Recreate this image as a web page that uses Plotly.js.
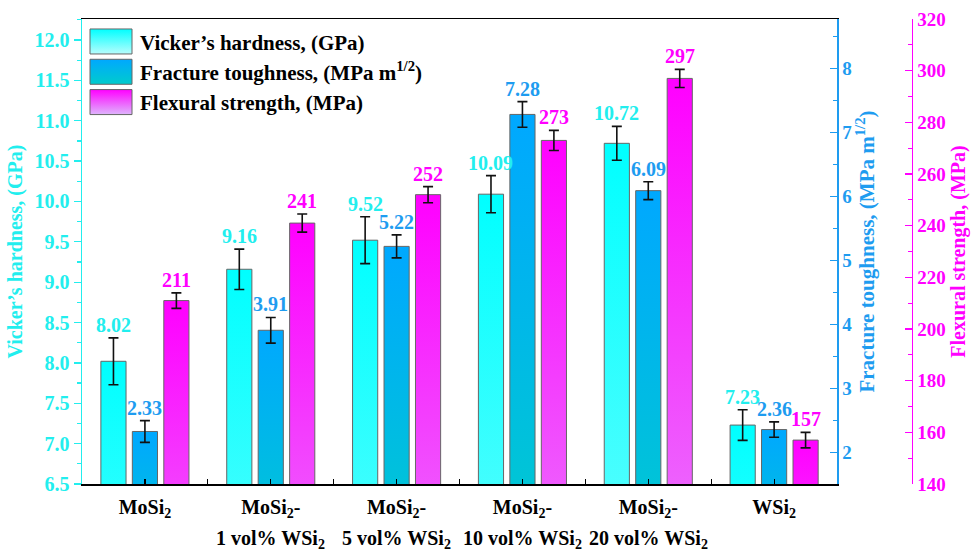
<!DOCTYPE html>
<html><head><meta charset="utf-8">
<script src="https://cdn.plot.ly/plotly-3.0.1.min.js"></script>
<style>html,body{margin:0;padding:0;background:#fff}#chart{width:974px;height:551px}</style>
</head><body>
<svg width="0" height="0" style="position:absolute">
<defs>
<linearGradient id="gradH" x1="0" y1="0" x2="0" y2="1"><stop offset="0" stop-color="#00ffff"/><stop offset="1" stop-color="#b8fdfd"/></linearGradient>
<linearGradient id="gradT" x1="0" y1="0" x2="0" y2="1"><stop offset="0" stop-color="#00a8ff"/><stop offset="1" stop-color="#00cccc"/></linearGradient>
<linearGradient id="gradF" x1="0" y1="0" x2="0" y2="1"><stop offset="0" stop-color="#ff00ff"/><stop offset="1" stop-color="#deb6fc"/></linearGradient>
</defs></svg>
<div id="chart"></div>
<script>
const categories = ['MoSi2','MoSi2-1 vol% WSi2','MoSi2-5 vol% WSi2','MoSi2-10 vol% WSi2','MoSi2-20 vol% WSi2','WSi2'];
const tickLine1 = ['MoSi<sub>2</sub>','MoSi<sub>2</sub>-','MoSi<sub>2</sub>-','MoSi<sub>2</sub>-','MoSi<sub>2</sub>-','WSi<sub>2</sub>'];
const tickLine2 = ['','1 vol% WSi<sub>2</sub>','5 vol% WSi<sub>2</sub>','10 vol% WSi<sub>2</sub>','20 vol% WSi<sub>2</sub>',''];
const hardness = [8.02, 9.16, 9.52, 10.09, 10.72, 7.23];
const hardnessErr = [0.29, 0.25, 0.29, 0.23, 0.21, 0.19];
const toughness = [2.33, 3.91, 5.22, 7.28, 6.09, 2.36];
const toughnessErr = [0.17, 0.20, 0.18, 0.20, 0.14, 0.12];
const strength = [211, 241, 252, 273, 297, 157];
const strengthErr = [3, 3.5, 3.1, 3.9, 3.5, 3];
const seriesNames = ['Vicker\u2019s hardness, (GPa)', 'Fracture toughness, (MPa m<sup>1/2</sup>)', 'Flexural strength, (MPa)'];

const CYAN = '#22eeee', BLUE = '#1e9cf0', MAG = '#ff00ff';
const FONT = 'Liberation Serif, Times New Roman, serif';
const grads = ['gradH','gradT','gradF'];
const fills = ['#00ffff','#00bbee','#ff44ff'];
const textColors = [CYAN, BLUE, MAG];
const offsets = [-0.35, -0.1, 0.15];
const yrefs = ['y','y2','y3'];
const xrefs = ['x','x','x2'];
const vals = [hardness, toughness, strength];
const errs = [hardnessErr, toughnessErr, strengthErr];
const fmt = [v=>v.toFixed(2), v=>v.toFixed(2), v=>String(Math.round(v))];

const traces = vals.map((v,i)=>({
  type:'bar', name:seriesNames[i], x:categories, y:v,
  xaxis:xrefs[i], yaxis:yrefs[i], width:0.2, offset:offsets[i],
  marker:{color:fills[i], line:{color:'#666666', width:1}},
  error_y:{type:'data', array:errs[i], visible:true, color:'#111111', thickness:1.6, width:5}
}));

const annotations = [];
vals.forEach((v,i)=>{
  v.forEach((val,j)=>{
    annotations.push({x:j+offsets[i]+0.1, y:val+errs[i][j], xref:'x', yref:yrefs[i],
      text:fmt[i](val), showarrow:false, yanchor:'bottom', yshift:0,
      font:{family:FONT, size:20, weight:'bold', color:textColors[i]}});
  });
});
tickLine2.forEach((t,j)=>{
  if(t) annotations.push({x:j, y:-0.12, xref:'x', yref:'paper', text:t, showarrow:false,
    yanchor:'middle', font:{family:FONT, size:20, weight:'bold', color:'#000'}});
});

const axisCommon = {showgrid:false, zeroline:false, showline:true, linewidth:1.5};
const layout = {
  width:974, height:551, margin:{l:82, r:12, t:19, b:67},
  paper_bgcolor:'#fff', plot_bgcolor:'#fff', barmode:'overlay', showlegend:true,
  font:{family:FONT},
  xaxis:Object.assign({}, axisCommon, {type:'category', categoryarray:categories, categoryorder:'array',
    range:[-0.5,5.5], domain:[0,0.858], tickmode:'array', tickvals:categories, ticktext:tickLine1,
    ticks:'inside', ticklen:5, tickwidth:1.2, tickcolor:'#000', linecolor:'#000', mirror:true, ticklabelstandoff:4,
    tickfont:{family:FONT, size:20, weight:'bold', color:'#000'}}),
  xaxis2:{type:'category', categoryarray:categories, categoryorder:'array', overlaying:'x', anchor:'y',
    range:[-0.5,5.5], side:'bottom', tickson:'boundaries', ticks:'inside', ticklen:5, tickwidth:1.2, tickcolor:'#000',
    showticklabels:false, showgrid:false, zeroline:false, showline:false},
  yaxis:Object.assign({}, axisCommon, {range:[6.5,12.26], dtick:0.5, tick0:0, tickformat:'.1f',
    ticks:'outside', ticklen:7, tickwidth:1.2, tickcolor:CYAN, linecolor:CYAN,
    minor:{dtick:0.25, tick0:0, ticks:'outside', ticklen:4, tickcolor:CYAN, showgrid:false},
    tickfont:{family:FONT, size:20, weight:'bold', color:CYAN},
    title:{text:'Vicker\u2019s hardness, (GPa)', font:{family:FONT, size:20, weight:'bold', color:CYAN}, standoff:6}}),
  yaxis2:Object.assign({}, axisCommon, {overlaying:'y', side:'right', anchor:'x', range:[1.51,8.77], dtick:1, tick0:0,
    ticks:'inside', ticklen:7, tickwidth:1.2, tickcolor:BLUE, linecolor:BLUE,
    minor:{dtick:0.5, tick0:0, ticks:'inside', ticklen:4, tickcolor:BLUE, showgrid:false},
    tickfont:{family:FONT, size:19, weight:'bold', color:BLUE},
    title:{text:'Fracture toughness, (MPa m<sup>1/2</sup>)', font:{family:FONT, size:21, weight:'bold', color:BLUE}, standoff:6}}),
  yaxis3:Object.assign({}, axisCommon, {overlaying:'y', side:'right', anchor:'free', position:0.943, range:[140,320], dtick:20, tick0:0,
    ticks:'inside', ticklen:7, tickwidth:1.2, tickcolor:MAG, linecolor:MAG,
    minor:{dtick:10, tick0:0, ticks:'inside', ticklen:4, tickcolor:MAG, showgrid:false},
    tickfont:{family:FONT, size:19, weight:'bold', color:MAG},
    title:{text:'Flexural strength, (MPa)', font:{family:FONT, size:20, weight:'bold', color:MAG}, standoff:6}}),
  legend:{x:0.0, y:0.995, xanchor:'left', yanchor:'top', bgcolor:'rgba(0,0,0,0)', itemwidth:48,
    font:{family:FONT, size:21, weight:'bold', color:'#000'}, traceorder:'normal', tracegroupgap:0},
  annotations:annotations
};

Plotly.newPlot('chart', traces, layout, {staticPlot:true, displayModeBar:false}).then(gd=>{
  gd.querySelectorAll('.trace.bars').forEach((g,k)=>{
    let idx = k;
    try { idx = g.__data__[0].trace.index; } catch(e) {}
    g.querySelectorAll('.point path').forEach(p=>{ p.style.fill = 'url(#'+grads[idx]+')'; });
  });
  gd.querySelectorAll('.legend .traces').forEach((g,k)=>{
    let idx = k;
    try { idx = g.__data__[0][0].trace.index; } catch(e) {}
    g.querySelectorAll('.legendpoints path').forEach(p=>{
      p.setAttribute('d','M-21,-12.5H21V12.5H-21Z');
      p.style.fill = 'url(#'+grads[idx]+')';
      p.style.stroke = '#666'; p.style.strokeWidth = '1px';
    });
  });
});
</script>
</body></html>
